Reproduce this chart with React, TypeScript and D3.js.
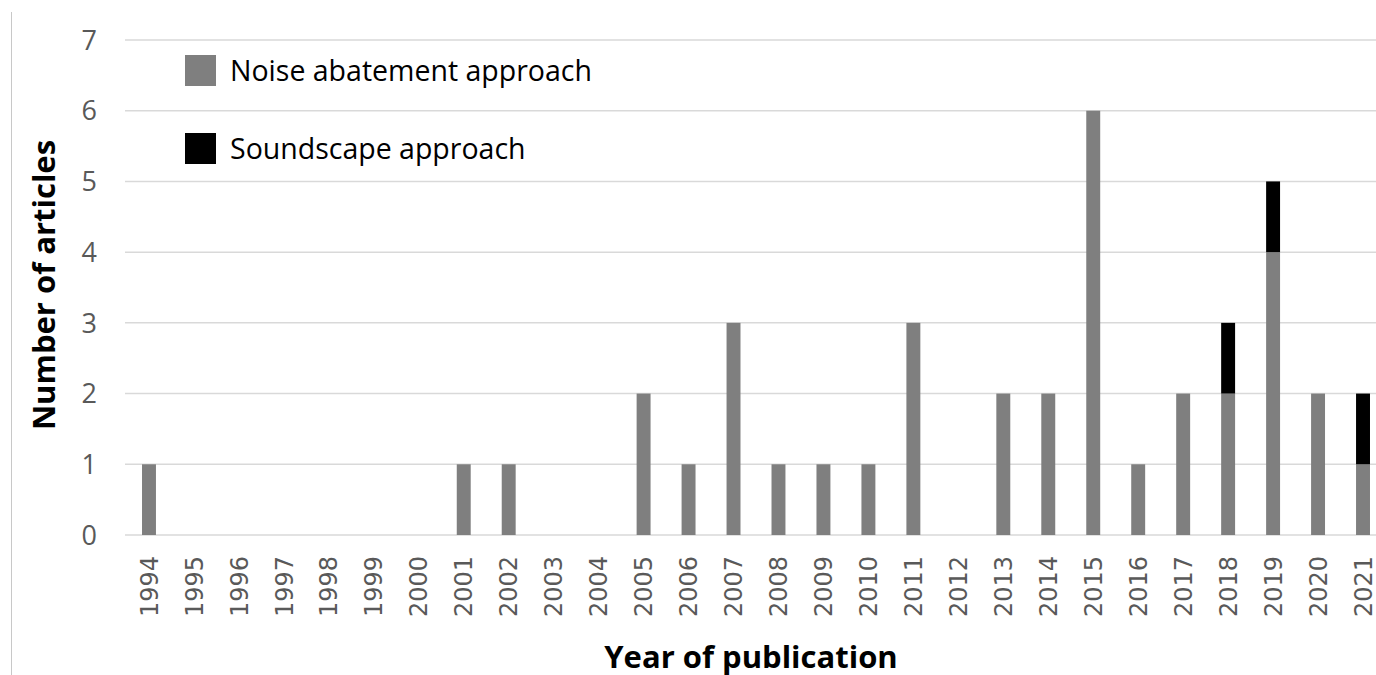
import React from "react";
import * as d3 from "d3";

const years = ["1994","1995","1996","1997","1998","1999","2000","2001","2002","2003","2004","2005","2006","2007","2008","2009","2010","2011","2012","2013","2014","2015","2016","2017","2018","2019","2020","2021"];
const noiseAbatement = [1,0,0,0,0,0,0,1,1,0,0,2,1,3,1,1,1,3,0,2,2,6,1,2,2,4,2,1];
const soundscape = [0,0,0,0,0,0,0,0,0,0,0,0,0,0,0,0,0,0,0,0,0,0,0,0,1,1,0,1];
const yTicks = [0,1,2,3,4,5,6,7];
const seriesNames = ["Noise abatement approach", "Soundscape approach"];
const seriesColors = ["#7f7f7f", "#000000"];

export default function App() {
  const W = 1376, H = 675;
  const x = d3.scaleBand<string>().domain(years).range([126.5, 1385.5]).paddingInner(0.69).paddingOuter(0.345);
  const y = d3.scaleLinear().domain([0, 7]).range([535, 40]);
  const font = "'Open Sans', 'DejaVu Sans', sans-serif";
  const bw = x.bandwidth();
  return (
    <svg width={W} height={H} style={{ position: "absolute", left: 0, top: 0, background: "#fff" }} fontFamily={font}>
      <line x1={11.5} x2={11.5} y1={12} y2={H} stroke="#c8c8c8" strokeWidth={1} />
      {yTicks.map(t => (
        <g key={t}>
          <line x1={125} x2={1376} y1={y(t)} y2={y(t)} stroke="#d9d9d9" strokeWidth={1.5} />
          <text x={97} y={y(t)} dy="0.36em" textAnchor="end" fontSize={27} fill="#595959">{t}</text>
        </g>
      ))}
      {years.map((yr, i) => {
        const x0 = x(yr)!;
        return (
          <g key={yr}>
            {noiseAbatement[i] > 0 && (
              <rect x={x0} width={bw} y={y(noiseAbatement[i])} height={y(0) - y(noiseAbatement[i])} fill={seriesColors[0]} />
            )}
            {soundscape[i] > 0 && (
              <rect x={x0} width={bw} y={y(noiseAbatement[i] + soundscape[i])} height={y(noiseAbatement[i]) - y(noiseAbatement[i] + soundscape[i])} fill={seriesColors[1]} />
            )}
            <text transform={`translate(${x0 + bw / 2},${556}) rotate(-90)`} textAnchor="end" dy="0.36em" fontSize={24} fontFamily="'DejaVu Sans', sans-serif" fill="#595959">{yr}</text>
          </g>
        );
      })}
      <text transform={`translate(44,285) rotate(-90)`} textAnchor="middle" dy="0.36em" fontSize={31} fontWeight="bold" fill="#000">Number of articles</text>
      <text x={751} y={657} textAnchor="middle" dy="0.36em" fontSize={31} fontWeight="bold" fill="#000">Year of publication</text>
      {seriesNames.map((n, i) => (
        <g key={n}>
          <rect x={185} y={55 + i * 78} width={31} height={31} fill={seriesColors[i]} />
          <text x={230} y={71 + i * 78} dy="0.36em" fontSize={28.5} fill="#000">{n}</text>
        </g>
      ))}
    </svg>
  );
}
